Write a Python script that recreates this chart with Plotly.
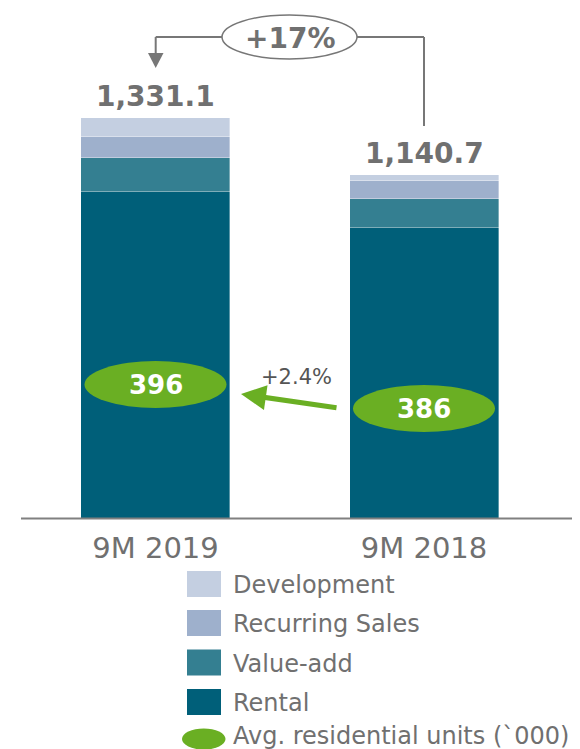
import plotly.graph_objects as go

# ---------------- data ----------------
categories = ["9M 2019", "9M 2018"]
series_names = ["Rental", "Value-add", "Recurring Sales", "Development"]
rental = [1083.2, 965.6]
value_add = [115.0, 95.4]
recurring_sales = [69.8, 60.8]
development = [63.1, 18.9]
avg_units = [396, 386]
units_growth_label = "+2.4%"
total_growth_label = "+17%"
units_legend_label = "Avg. residential units (`000)"

series_values = [rental, value_add, recurring_sales, development]
series_colors = ["#005F79", "#347F91", "#9EB0CC", "#C4CFE1"]

totals = [sum(v[i] for v in series_values) for i in range(len(categories))]

# ---------------- geometry helpers ----------------
# the page has an 8px body margin, so the figure is drawn 8px in from the window edge
OFF = 8
PAGE_W, PAGE_H = 580, 749
W, H = PAGE_W - OFF, PAGE_H - OFF
BASE_PX = 518.5          # baseline, page pixels
PX_PER_UNIT = 0.3011
YMAX = (BASE_PX - OFF) / PX_PER_UNIT
X0_PX, X_STEP_PX = 155.5, 268.5


def px(x):
    return (x - OFF) / W


def py(y):
    return 1 - (y - OFF) / H


GRAY = "#707070"
GREEN = "#6AAF23"
FONT = "DejaVu Sans, Verdana, sans-serif"

fig = go.Figure()
for name, vals, col in zip(series_names, series_values, series_colors):
    fig.add_trace(go.Bar(
        x=list(range(len(categories))), y=vals, name=name,
        marker=dict(color=col, line=dict(color="rgba(255,255,255,0.45)", width=0.8)),
        width=149 / X_STEP_PX, hoverinfo="skip", showlegend=False,
    ))

shapes = []
annotations = []


def label(x, y, text, size, color=GRAY, xanchor="center"):
    annotations.append(dict(x=px(x), y=py(y), xref="paper", yref="paper", text=text,
                            showarrow=False, xanchor=xanchor, yanchor="middle",
                            font=dict(size=size, color=color, family=FONT)))


# baseline
shapes.append(dict(type="line", xref="paper", yref="paper",
                   x0=px(21), x1=1, y0=py(BASE_PX), y1=py(BASE_PX),
                   line=dict(color="#808080", width=2)))

# total labels
for i, t in enumerate(totals):
    annotations.append(dict(x=i, y=t, xref="x", yref="y", text="<b>{:,.1f}</b>".format(t),
                            showarrow=False, xanchor="center", yanchor="bottom", yshift=3,
                            font=dict(size=28, color=GRAY, family=FONT)))

# growth connector on top
lc = dict(color="#777777", width=2)
shapes += [
    dict(type="line", xref="paper", yref="paper", x0=px(424), x1=px(424), y0=py(126), y1=py(37), line=lc),
    dict(type="line", xref="paper", yref="paper", x0=px(424), x1=px(357), y0=py(37), y1=py(37), line=lc),
    dict(type="line", xref="paper", yref="paper", x0=px(222), x1=px(155.7), y0=py(37), y1=py(37), line=lc),
    dict(type="line", xref="paper", yref="paper", x0=px(155.7), x1=px(155.7), y0=py(37), y1=py(55), line=lc),
    dict(type="path", xref="paper", yref="paper",
         path="M {} {} L {} {} L {} {} Z".format(px(148), py(53), px(163.5), py(53), px(155.7), py(68)),
         fillcolor="#777777", line=dict(width=0)),
    dict(type="circle", xref="paper", yref="paper", x0=px(222), x1=px(357), y0=py(15), y1=py(59),
         fillcolor="white", line=dict(color="#777777", width=1.5)),
]
label(289.5, 38, "<b>" + total_growth_label + "</b>", 28)

# avg units ellipses
ell_centers = [(155.5, 384.5), (424, 408.5)]
for (cx, cy), val in zip(ell_centers, avg_units):
    shapes.append(dict(type="circle", xref="paper", yref="paper",
                       x0=px(cx - 71), x1=px(cx + 71), y0=py(cy - 23.5), y1=py(cy + 23.5),
                       fillcolor=GREEN, line=dict(width=0)))
    label(cx, cy + 0.5, "<b>{}</b>".format(val), 26, color="white")

# green arrow
annotations.append(dict(x=px(241), y=py(394), xref="paper", yref="paper", text="",
                        showarrow=True, ax=97, ay=14, arrowcolor=GREEN, arrowwidth=5,
                        arrowhead=2, arrowsize=1.0, standoff=0, startstandoff=0))
label(296.5, 377, units_growth_label, 21, color="#555555")

# custom legend
leg_rows = [584, 623, 662.5, 702]
for name, col, ry in zip(series_names[::-1], series_colors[::-1], leg_rows):
    shapes.append(dict(type="rect", xref="paper", yref="paper",
                       x0=px(187), x1=px(221), y0=py(ry - 13), y1=py(ry + 13),
                       fillcolor=col, line=dict(width=0)))
    label(231, ry + 1, name, 24, xanchor="left")
shapes.append(dict(type="circle", xref="paper", yref="paper",
                   x0=px(182), x1=px(225.5), y0=py(728.5), y1=py(749.5),
                   fillcolor=GREEN, line=dict(width=0)))
label(231, 735.5, units_legend_label, 24, xanchor="left")

fig.update_layout(
    width=W, height=H, autosize=False,
    margin=dict(l=0, r=0, t=0, b=0),
    paper_bgcolor="white", plot_bgcolor="white",
    barmode="stack", bargap=0,
    showlegend=False,
    shapes=shapes, annotations=annotations,
    font=dict(family=FONT, color=GRAY),
    xaxis=dict(domain=[0, 1],
               range=[(OFF - X0_PX) / X_STEP_PX, (PAGE_W - X0_PX) / X_STEP_PX],
               tickvals=list(range(len(categories))), ticktext=categories,
               tickfont=dict(size=29, color=GRAY, family=FONT),
               showgrid=False, zeroline=False, showline=False, ticks="",
               ticklabelstandoff=9, fixedrange=True),
    yaxis=dict(domain=[1 - (BASE_PX - OFF) / H, 1], range=[0, YMAX],
               showgrid=False, zeroline=False, showline=False,
               showticklabels=False, ticks="", fixedrange=True),
)

fig.write_html("out.html")
